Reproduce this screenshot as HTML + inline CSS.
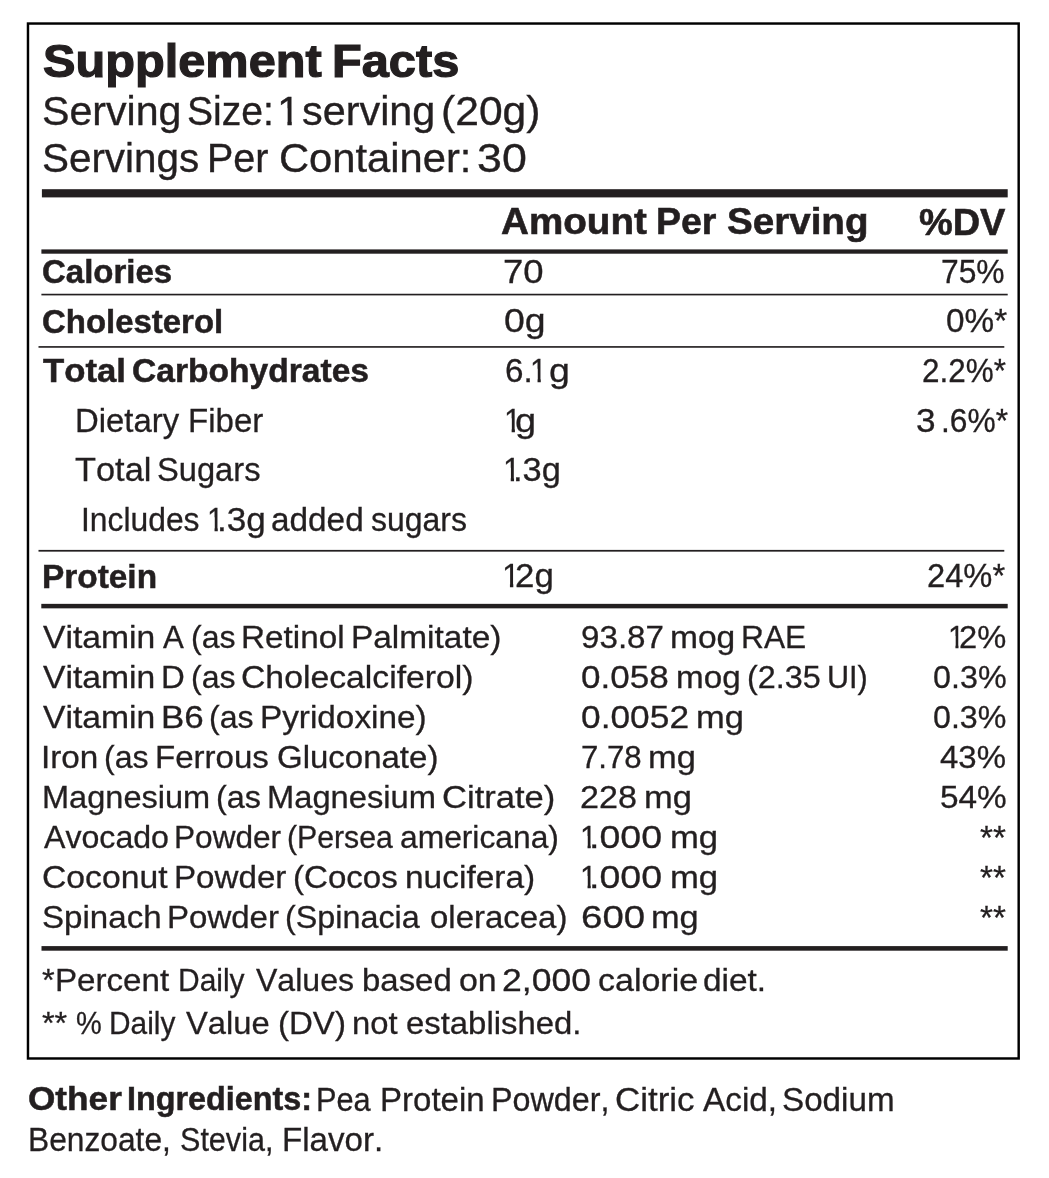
<!DOCTYPE html>
<html lang="en">
<head>
<meta charset="utf-8">
<title>Supplement Facts</title>
<style>
html,body{margin:0;padding:0;background:#fff;}
body{width:1049px;height:1178px;position:relative;overflow:hidden;font-family:"Liberation Sans",sans-serif;color:#231f20;}
#rules{position:absolute;left:0;top:0;}
.t{position:absolute;left:0;top:0;width:1049px;height:0;white-space:pre;line-height:1;font-weight:400;font-kerning:none;font-variant-ligatures:none;}
.t span{position:absolute;top:0;display:block;transform-origin:0 0;}
.t.b{font-weight:700;}
</style>
</head>
<body>
<svg id="rules" width="1049" height="1178" viewBox="0 0 1049 1178">
<rect x="27.98" y="23.53" width="990.7" height="1034.95" fill="none" stroke="#000" stroke-width="2.45"/>
<g fill="#231f20">
<rect x="41.9" y="189.2" width="965.8" height="8.2"/>
<rect x="41.4" y="249.4" width="966.3" height="4.3"/>
<rect x="41.4" y="293.75" width="966.3" height="1.65"/>
<rect x="38.5" y="346.1" width="965.8" height="1.65"/>
<rect x="38.5" y="549.9" width="965.8" height="1.75"/>
<rect x="41.3" y="603.85" width="966.4" height="4.5"/>
<rect x="41.5" y="946.1" width="966.2" height="4.6"/>
</g>
</svg>
<div class="t b" style="top:38.30px;font-size:46.08px;-webkit-text-stroke:1.20px #231f20"><span style="left:42.60px;transform:scaleX(1.0569)">Supplement </span><span style="left:332.14px;transform:scaleX(1.0572)">Facts</span></div>
<div class="t" style="top:91.62px;font-size:39.90px;-webkit-text-stroke:0.35px #231f20"><span style="left:41.91px;transform:scaleX(1.0309)">Serving </span><span style="left:187.30px;transform:scaleX(0.9784)">Size: </span><span style="left:277.29px;transform:scaleX(1.0646);clip-path:polygon(.067em 0,.35em 0,.35em 1em,.245em 1em,.245em .42em,.067em .42em)">1 </span><span style="left:302.12px;transform:scaleX(1.0369)">serving </span><span style="left:441.23px;transform:scaleX(1.0686)">(20g)</span></div>
<div class="t" style="top:138.52px;font-size:39.90px;-webkit-text-stroke:0.35px #231f20"><span style="left:41.94px;transform:scaleX(1.0123)">Servings </span><span style="left:207.34px;transform:scaleX(0.9896)">Per </span><span style="left:278.76px;transform:scaleX(1.0456)">Container: </span><span style="left:476.77px;transform:scaleX(1.1222)">30</span></div>
<div class="t b" style="top:203.30px;font-size:37.50px;-webkit-text-stroke:0.60px #231f20"><span style="left:501.34px;transform:scaleX(1.0297)">Amount </span><span style="left:656.10px;transform:scaleX(0.9985)">Per </span><span style="left:726.59px;transform:scaleX(1.0287)">Serving</span></div>
<div class="t b" style="top:203.50px;font-size:37.50px;-webkit-text-stroke:0.60px #231f20"><span style="left:918.96px;transform:scaleX(1.0113)">%DV</span></div>
<div class="t b" style="top:256.25px;font-size:32.56px;-webkit-text-stroke:0.50px #231f20"><span style="left:41.80px;transform:scaleX(1.0134)">Calories</span></div>
<div class="t" style="top:255.85px;font-size:32.85px;-webkit-text-stroke:0.30px #231f20"><span style="left:503.08px;transform:scaleX(1.1111)">70</span></div>
<div class="t" style="top:255.85px;font-size:32.85px;-webkit-text-stroke:0.30px #231f20"><span style="left:941.32px;transform:scaleX(0.9683)">75%</span></div>
<div class="t b" style="top:305.75px;font-size:32.56px;-webkit-text-stroke:0.50px #231f20"><span style="left:41.90px;transform:scaleX(1.0121)">Cholesterol</span></div>
<div class="t" style="top:305.45px;font-size:32.85px;-webkit-text-stroke:0.30px #231f20"><span style="left:504.39px;transform:scaleX(1.1407)">0g</span></div>
<div class="t" style="top:305.45px;font-size:32.85px;-webkit-text-stroke:0.30px #231f20"><span style="left:945.95px;transform:scaleX(1.0143)">0%*</span></div>
<div class="t b" style="top:354.75px;font-size:32.56px;-webkit-text-stroke:0.50px #231f20"><span style="left:43.06px;transform:scaleX(1.0678)">Total </span><span style="left:132.27px;transform:scaleX(1.0320)">Carbohydrates</span></div>
<div class="t" style="top:354.85px;font-size:32.85px;-webkit-text-stroke:0.30px #231f20"><span style="left:505.16px;transform:scaleX(1.0119)">6.</span><span style="left:530.19px;transform:scaleX(0.9370);clip-path:polygon(.067em 0,.35em 0,.35em 1em,.245em 1em,.245em .42em,.067em .42em)">1 </span><span style="left:548.57px;transform:scaleX(1.1440)">g</span></div>
<div class="t" style="top:354.85px;font-size:32.85px;-webkit-text-stroke:0.30px #231f20"><span style="left:921.87px;transform:scaleX(0.9580)">2.2%*</span></div>
<div class="t" style="top:404.55px;font-size:32.85px;-webkit-text-stroke:0.30px #231f20"><span style="left:74.75px;transform:scaleX(1.0011)">Dietary </span><span style="left:188.04px;transform:scaleX(1.0069)">Fiber</span></div>
<div class="t" style="top:404.55px;font-size:32.85px;-webkit-text-stroke:0.30px #231f20"><span style="left:503.65px;transform:scaleX(0.9495);clip-path:polygon(.067em 0,.35em 0,.35em 1em,.245em 1em,.245em .42em,.067em .42em)">1</span><span style="left:515.45px;transform:scaleX(1.1575)">g</span></div>
<div class="t" style="top:404.55px;font-size:32.85px;-webkit-text-stroke:0.30px #231f20"><span style="left:916.21px;transform:scaleX(1.0722)">3</span><span style="left:940.75px;transform:scaleX(0.9670)">.6%*</span></div>
<div class="t" style="top:454.25px;font-size:32.85px;-webkit-text-stroke:0.30px #231f20"><span style="left:75.18px;transform:scaleX(1.0472)">Total </span><span style="left:156.77px;transform:scaleX(0.9950)">Sugars</span></div>
<div class="t" style="top:453.85px;font-size:32.85px;-webkit-text-stroke:0.30px #231f20"><span style="left:503.31px;transform:scaleX(0.9620);clip-path:polygon(.067em 0,.35em 0,.35em 1em,.245em 1em,.245em .42em,.067em .42em)">1</span><span style="left:513.41px;transform:scaleX(1.0481)">.3g</span></div>
<div class="t" style="top:503.55px;font-size:32.85px;-webkit-text-stroke:0.30px #231f20"><span style="left:81.11px;transform:scaleX(0.9692)">Includes </span><span style="left:206.79px;transform:scaleX(0.9370);clip-path:polygon(.067em 0,.35em 0,.35em 1em,.245em 1em,.245em .42em,.067em .42em)">1</span><span style="left:217.14px;transform:scaleX(1.0703)">.3g </span><span style="left:271.23px;transform:scaleX(1.0155)">added </span><span style="left:370.76px;transform:scaleX(0.9741)">sugars</span></div>
<div class="t b" style="top:560.65px;font-size:32.56px;-webkit-text-stroke:0.50px #231f20"><span style="left:42.01px;transform:scaleX(1.0262)">Protein</span></div>
<div class="t" style="top:560.05px;font-size:32.85px;-webkit-text-stroke:0.30px #231f20"><span style="left:502.03px;transform:scaleX(0.9870);clip-path:polygon(.067em 0,.35em 0,.35em 1em,.245em 1em,.245em .42em,.067em .42em)">1</span><span style="left:514.80px;transform:scaleX(1.0620)">2g</span></div>
<div class="t" style="top:559.85px;font-size:32.85px;-webkit-text-stroke:0.30px #231f20"><span style="left:926.71px;transform:scaleX(0.9952)">24%*</span></div>
<div class="t" style="top:623.05px;font-size:30.96px;-webkit-text-stroke:0.30px #231f20"><span style="left:42.90px;transform:scaleX(1.0882)">Vitamin </span><span style="left:162.79px;transform:scaleX(1.0083)">A </span><span style="left:190.66px;transform:scaleX(1.0358)">(as </span><span style="left:241.22px;transform:scaleX(1.0745)">Retinol </span><span style="left:350.81px;transform:scaleX(1.0793)">Palmitate)</span></div>
<div class="t" style="top:623.05px;font-size:30.96px;-webkit-text-stroke:0.30px #231f20"><span style="left:580.59px;transform:scaleX(1.0716)">93.87 </span><span style="left:670.32px;transform:scaleX(1.0841)">mog </span><span style="left:740.55px;transform:scaleX(1.0236)">RAE</span></div>
<div class="t" style="top:623.05px;font-size:30.96px;-webkit-text-stroke:0.30px #231f20"><span style="left:948.13px;transform:scaleX(0.9810);clip-path:polygon(.067em 0,.35em 0,.35em 1em,.245em 1em,.245em .42em,.067em .42em)">1</span><span style="left:959.41px;transform:scaleX(1.0550)">2%</span></div>
<div class="t" style="top:663.05px;font-size:30.96px;-webkit-text-stroke:0.30px #231f20"><span style="left:42.90px;transform:scaleX(1.0882)">Vitamin </span><span style="left:161.35px;transform:scaleX(1.0634)">D </span><span style="left:190.66px;transform:scaleX(1.0358)">(as </span><span style="left:241.44px;transform:scaleX(1.0902)">Cholecalciferol)</span></div>
<div class="t" style="top:663.05px;font-size:30.96px;-webkit-text-stroke:0.30px #231f20"><span style="left:580.78px;transform:scaleX(1.1332)">0.058 </span><span style="left:676.04px;transform:scaleX(1.0734)">mog </span><span style="left:746.84px;transform:scaleX(1.0453)">(2.35 </span><span style="left:826.59px;transform:scaleX(0.9875)">UI)</span></div>
<div class="t" style="top:663.05px;font-size:30.96px;-webkit-text-stroke:0.30px #231f20"><span style="left:932.79px;transform:scaleX(1.0432)">0.3%</span></div>
<div class="t" style="top:703.05px;font-size:30.96px;-webkit-text-stroke:0.30px #231f20"><span style="left:42.90px;transform:scaleX(1.0882)">Vitamin </span><span style="left:161.19px;transform:scaleX(1.1275)">B6 </span><span style="left:209.26px;transform:scaleX(1.0358)">(as </span><span style="left:260.22px;transform:scaleX(1.0758)">Pyridoxine)</span></div>
<div class="t" style="top:703.05px;font-size:30.96px;-webkit-text-stroke:0.30px #231f20"><span style="left:580.77px;transform:scaleX(1.1411)">0.0052 </span><span style="left:695.96px;transform:scaleX(1.1140)">mg</span></div>
<div class="t" style="top:703.05px;font-size:30.96px;-webkit-text-stroke:0.30px #231f20"><span style="left:933.29px;transform:scaleX(1.0402)">0.3%</span></div>
<div class="t" style="top:743.05px;font-size:30.96px;-webkit-text-stroke:0.30px #231f20"><span style="left:41.38px;transform:scaleX(1.0747)">Iron </span><span style="left:103.66px;transform:scaleX(1.0358)">(as </span><span style="left:154.74px;transform:scaleX(1.0679)">Ferrous </span><span style="left:277.29px;transform:scaleX(1.0658)">Gluconate)</span></div>
<div class="t" style="top:743.05px;font-size:30.96px;-webkit-text-stroke:0.30px #231f20"><span style="left:580.55px;transform:scaleX(1.0066)">7.78 </span><span style="left:648.46px;transform:scaleX(1.1140)">mg</span></div>
<div class="t" style="top:743.05px;font-size:30.96px;-webkit-text-stroke:0.30px #231f20"><span style="left:940.09px;transform:scaleX(1.0640)">43%</span></div>
<div class="t" style="top:783.05px;font-size:30.96px;-webkit-text-stroke:0.30px #231f20"><span style="left:41.78px;transform:scaleX(1.0511)">Magnesium </span><span style="left:216.44px;transform:scaleX(1.0458)">(as </span><span style="left:267.47px;transform:scaleX(1.0556)">Magnesium </span><span style="left:442.00px;transform:scaleX(1.1163)">Citrate)</span></div>
<div class="t" style="top:783.05px;font-size:30.96px;-webkit-text-stroke:0.30px #231f20"><span style="left:580.23px;transform:scaleX(1.1015)">228 </span><span style="left:643.76px;transform:scaleX(1.1140)">mg</span></div>
<div class="t" style="top:783.05px;font-size:30.96px;-webkit-text-stroke:0.30px #231f20"><span style="left:939.52px;transform:scaleX(1.0768)">54%</span></div>
<div class="t" style="top:823.05px;font-size:30.96px;-webkit-text-stroke:0.30px #231f20"><span style="left:43.69px;transform:scaleX(1.0376)">Avocado </span><span style="left:173.86px;transform:scaleX(1.0204)">Powder </span><span style="left:286.97px;transform:scaleX(0.9767)">(Persea </span><span style="left:400.30px;transform:scaleX(1.0262)">americana)</span></div>
<div class="t" style="top:823.05px;font-size:30.96px;-webkit-text-stroke:0.30px #231f20"><span style="left:579.59px;transform:scaleX(0.9942);clip-path:polygon(.067em 0,.35em 0,.35em 1em,.245em 1em,.245em .42em,.067em .42em)">1</span><span style="left:589.32px;transform:scaleX(1.2131)">.000 </span><span style="left:669.85px;transform:scaleX(1.1192)">mg</span></div>
<div class="t" style="top:820.65px;font-size:33.47px;-webkit-text-stroke:0.30px #231f20"><span style="left:979.71px;transform:scaleX(0.9925)">**</span></div>
<div class="t" style="top:863.05px;font-size:30.96px;-webkit-text-stroke:0.30px #231f20"><span style="left:42.04px;transform:scaleX(1.0888)">Coconut </span><span style="left:173.73px;transform:scaleX(1.0704)">Powder </span><span style="left:293.00px;transform:scaleX(1.0681)">(Cocos </span><span style="left:405.23px;transform:scaleX(1.0809)">nucifera)</span></div>
<div class="t" style="top:863.05px;font-size:30.96px;-webkit-text-stroke:0.30px #231f20"><span style="left:579.59px;transform:scaleX(0.9942);clip-path:polygon(.067em 0,.35em 0,.35em 1em,.245em 1em,.245em .42em,.067em .42em)">1</span><span style="left:589.32px;transform:scaleX(1.2131)">.000 </span><span style="left:669.85px;transform:scaleX(1.1192)">mg</span></div>
<div class="t" style="top:860.65px;font-size:33.47px;-webkit-text-stroke:0.30px #231f20"><span style="left:979.71px;transform:scaleX(0.9925)">**</span></div>
<div class="t" style="top:903.05px;font-size:30.96px;-webkit-text-stroke:0.30px #231f20"><span style="left:41.55px;transform:scaleX(1.0695)">Spinach </span><span style="left:166.54px;transform:scaleX(1.0665)">Powder </span><span style="left:285.14px;transform:scaleX(1.0444)">(Spinacia </span><span style="left:429.77px;transform:scaleX(1.0648)">oleracea)</span></div>
<div class="t" style="top:903.05px;font-size:30.96px;-webkit-text-stroke:0.30px #231f20"><span style="left:580.60px;transform:scaleX(1.2420)">600 </span><span style="left:651.37px;transform:scaleX(1.1089)">mg</span></div>
<div class="t" style="top:900.65px;font-size:33.47px;-webkit-text-stroke:0.30px #231f20"><span style="left:979.71px;transform:scaleX(0.9925)">**</span></div>
<div class="t" style="top:965.95px;font-size:30.96px;-webkit-text-stroke:0.30px #231f20"><span style="left:42.33px;transform:scaleX(1.0483)">*</span><span style="left:54.63px;transform:scaleX(1.0699)">Percent </span><span style="left:177.79px;transform:scaleX(0.9681)">Daily </span><span style="left:255.91px;transform:scaleX(1.0352)">Values </span><span style="left:362.33px;transform:scaleX(1.0639)">based </span><span style="left:458.83px;transform:scaleX(1.0955)">on </span><span style="left:501.56px;transform:scaleX(1.1498)">2,000 </span><span style="left:597.91px;transform:scaleX(1.0982)">calorie </span><span style="left:703.25px;transform:scaleX(1.0792)">diet.</span></div>
<div class="t" style="top:1009.25px;font-size:30.96px;-webkit-text-stroke:0.30px #231f20"><span style="left:42.33px;transform:scaleX(1.0470)">** </span><span style="left:75.72px;transform:scaleX(0.9360)">% </span><span style="left:108.60px;transform:scaleX(0.9636)">Daily </span><span style="left:186.41px;transform:scaleX(1.0570)">Value </span><span style="left:278.30px;transform:scaleX(1.0671)">(DV) </span><span style="left:352.27px;transform:scaleX(1.0600)">not </span><span style="left:405.95px;transform:scaleX(1.0615)">established.</span></div>
<div class="t b" style="top:1083.45px;font-size:32.70px;-webkit-text-stroke:0.50px #231f20"><span style="left:28.11px;transform:scaleX(1.0764)">Other </span><span style="left:126.59px;transform:scaleX(0.9890)">Ingredients:</span></div>
<div class="t" style="top:1083.55px;font-size:32.56px;-webkit-text-stroke:0.30px #231f20"><span style="left:316.03px;transform:scaleX(0.9446)">Pea </span><span style="left:380.34px;transform:scaleX(1.0144)">Protein </span><span style="left:491.40px;transform:scaleX(0.9925)">Powder, </span><span style="left:614.68px;transform:scaleX(1.0734)">Citric </span><span style="left:703.08px;transform:scaleX(1.0245)">Acid, </span><span style="left:781.74px;transform:scaleX(1.0199)">Sodium</span></div>
<div class="t" style="top:1123.55px;font-size:32.56px;-webkit-text-stroke:0.30px #231f20"><span style="left:27.75px;transform:scaleX(0.9749)">Benzoate, </span><span style="left:179.56px;transform:scaleX(0.9387)">Stevia, </span><span style="left:282.13px;transform:scaleX(1.0185)">Flavor.</span></div>
</body>
</html>
